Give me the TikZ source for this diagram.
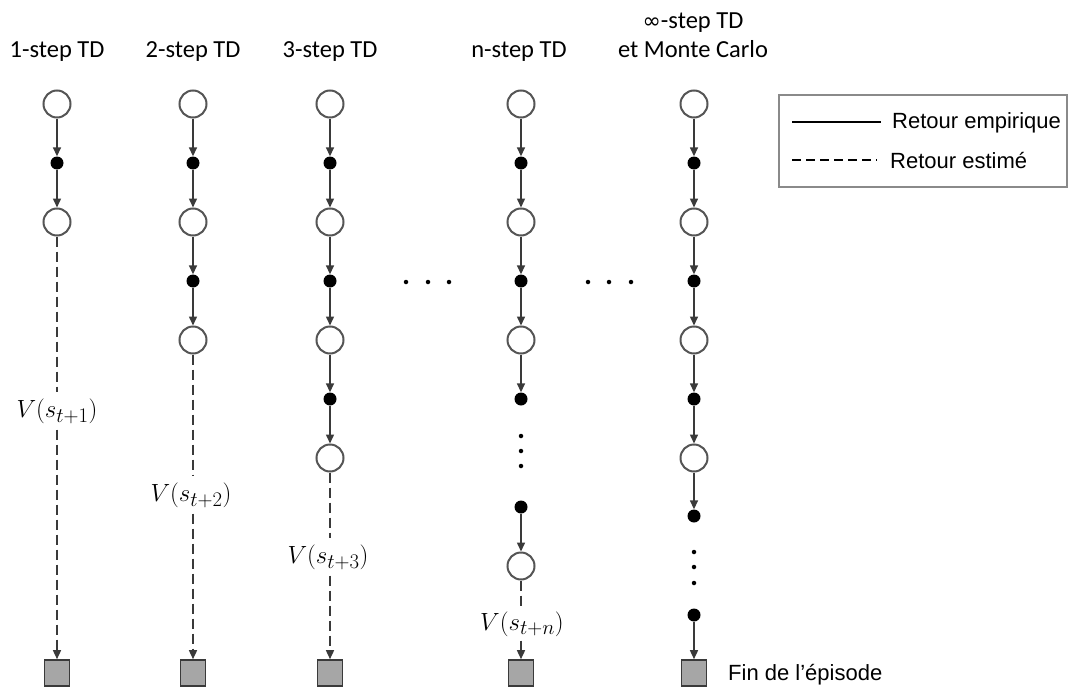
\documentclass[tikz,border=0pt]{standalone}
\usepackage{fontspec}
\usetikzlibrary{arrows.meta}
\newfontfamily\titlefont{Carlito}
\newfontfamily\legfont{Liberation Sans}
\newfontfamily\symfont{DejaVu Sans}
\definecolor{linegray}{HTML}{3A3A3A}
\definecolor{circgray}{HTML}{555555}
\definecolor{termgray}{HTML}{A6A6A6}
\definecolor{boxgray}{HTML}{8A8A8A}
\tikzset{
  statenode/.style={circle, draw=circgray, line width=2, fill=white, minimum size=27, inner sep=0},
  actnode/.style={circle, fill=black, minimum size=13, inner sep=0},
  termnode/.style={rectangle, draw=linegray, line width=1.6, fill=termgray, minimum width=25, minimum height=26, inner sep=0},
  smalldot/.style={circle, fill=black, minimum size=4.5, inner sep=0},
  emp/.style={draw=linegray, line width=1.5, -{Triangle[length=9,width=8]}},
  estline/.style={draw=linegray, line width=1.5, dash pattern=on 10 off 5},
  est/.style={estline, -{Triangle[length=9,width=8]}},
  vlabel/.style={inner sep=6, font=\fontsize{24.88}{30}\selectfont},
  title/.style={anchor=base, font=\titlefont\fontsize{24.5}{29}\selectfont, inner sep=0},
  legtext/.style={anchor=west, font=\legfont\fontsize{22}{26}\selectfont, inner sep=0},
}
\begin{document}
\begin{tikzpicture}[x=1pt,y=-1pt]
\useasboundingbox (0,0) rectangle (1069,688);
% titles
\node[title] (h1) at (57,57) {1-step TD};
\node[title] (h2) at (193,57) {2-step TD};
\node[title] (h3) at (330,57) {3-step TD};
\node[title] (hn) at (519,57) {n-step TD};
\node[title] (hia) at (693,28) {{\symfont\fontsize{22}{26}\selectfont ∞}-step TD};
\node[title] (hib) at (693,57) {et Monte Carlo};

% column 1
\node[statenode] (c1a) at (57,104) {};
\node[actnode]   (a1a) at (57,163) {};
\node[statenode] (c1b) at (57,222) {};
\node[vlabel]    (l1)  at (57,411) {$V(s_{t+1})$};
\node[termnode]  (t1)  at (57,673) {};
\draw[emp] (c1a) -- (a1a);
\draw[emp] (a1a) -- (c1b);
\draw[estline] (c1b) -- (l1);
\draw[est] (l1) -- (t1);

% column 2
\node[statenode] (c2a) at (193,104) {};
\node[actnode]   (a2a) at (193,163) {};
\node[statenode] (c2b) at (193,222) {};
\node[actnode]   (a2b) at (193,281) {};
\node[statenode] (c2c) at (193,340) {};
\node[vlabel]    (l2)  at (191,495) {$V(s_{t+2})$};
\node[termnode]  (t2)  at (193,673) {};
\draw[emp] (c2a) -- (a2a);
\draw[emp] (a2a) -- (c2b);
\draw[emp] (c2b) -- (a2b);
\draw[emp] (a2b) -- (c2c);
\draw[estline] (c2c) -- (c2c |- l2.north);
\draw[est] (t2 |- l2.south) -- (t2);

% column 3
\node[statenode] (c3a) at (330,104) {};
\node[actnode]   (a3a) at (330,163) {};
\node[statenode] (c3b) at (330,222) {};
\node[actnode]   (a3b) at (330,281) {};
\node[statenode] (c3c) at (330,340) {};
\node[actnode]   (a3c) at (330,399) {};
\node[statenode] (c3d) at (330,458) {};
\node[vlabel]    (l3)  at (328,557) {$V(s_{t+3})$};
\node[termnode]  (t3)  at (330,673) {};
\draw[emp] (c3a) -- (a3a);
\draw[emp] (a3a) -- (c3b);
\draw[emp] (c3b) -- (a3b);
\draw[emp] (a3b) -- (c3c);
\draw[emp] (c3c) -- (a3c);
\draw[emp] (a3c) -- (c3d);
\draw[estline] (c3d) -- (c3d |- l3.north);
\draw[est] (t3 |- l3.south) -- (t3);

% horizontal ellipsis
\node[smalldot] (h1d) at (406,282) {};
\node[smalldot] (h2d) at (428,282) {};
\node[smalldot] (h3d) at (449,282) {};
\node[smalldot] (h4d) at (588,282) {};
\node[smalldot] (h5d) at (609,282) {};
\node[smalldot] (h6d) at (631,282) {};

% column n
\node[statenode] (cna) at (521,104) {};
\node[actnode]   (ana) at (521,163) {};
\node[statenode] (cnb) at (521,222) {};
\node[actnode]   (anb) at (521,281) {};
\node[statenode] (cnc) at (521,340) {};
\node[actnode]   (anc) at (521,399) {};
\node[smalldot]  (vn1) at (521,436) {};
\node[smalldot]  (vn2) at (521,451) {};
\node[smalldot]  (vn3) at (521,466) {};
\node[actnode]   (and) at (521,507) {};
\node[statenode] (cnd) at (521,566) {};
\node[vlabel, inner sep=4] (ln) at (522,624) {$V(s_{t+n})$};
\node[termnode]  (tn)  at (521,673) {};
\draw[emp] (cna) -- (ana);
\draw[emp] (ana) -- (cnb);
\draw[emp] (cnb) -- (anb);
\draw[emp] (anb) -- (cnc);
\draw[emp] (cnc) -- (anc);
\draw[emp] (and) -- (cnd);
\draw[estline] (cnd) -- (cnd |- ln.north);
\draw[est] (tn |- ln.south) -- (tn);

% column infinity
\node[statenode] (cia) at (694,104) {};
\node[actnode]   (aia) at (694,163) {};
\node[statenode] (cib) at (694,222) {};
\node[actnode]   (aib) at (694,281) {};
\node[statenode] (cic) at (694,340) {};
\node[actnode]   (aic) at (694,399) {};
\node[statenode] (cid) at (694,458) {};
\node[actnode]   (aid) at (694,516) {};
\node[smalldot]  (vi1) at (694,552) {};
\node[smalldot]  (vi2) at (694,567) {};
\node[smalldot]  (vi3) at (694,583) {};
\node[actnode]   (aie) at (694,615) {};
\node[termnode]  (ti)  at (694,673) {};
\draw[emp] (cia) -- (aia);
\draw[emp] (aia) -- (cib);
\draw[emp] (cib) -- (aib);
\draw[emp] (aib) -- (cic);
\draw[emp] (cic) -- (aic);
\draw[emp] (aic) -- (cid);
\draw[emp] (cid) -- (aid);
\draw[emp] (aie) -- (ti);
\node[legtext] (fin) at (728,675) {Fin de l’épisode};

% legend
\node[draw=boxgray, line width=1.5, minimum width=288, minimum height=92, inner sep=0, anchor=north west] (leg) at (778,94) {};
\coordinate (ls1) at (792,122);
\coordinate (le1) at (881,122);
\coordinate (ls2) at (792,160);
\coordinate (le2) at (877,160);
\draw[draw=black, line width=1.3] (ls1) -- (le1);
\draw[draw=black, line width=1.3, dash pattern=on 9 off 5] (ls2) -- (le2);
\node[legtext] (lt1) at (892,123) {Retour empirique};
\node[legtext] (lt2) at (890,161) {Retour estimé};
\end{tikzpicture}
\end{document}
